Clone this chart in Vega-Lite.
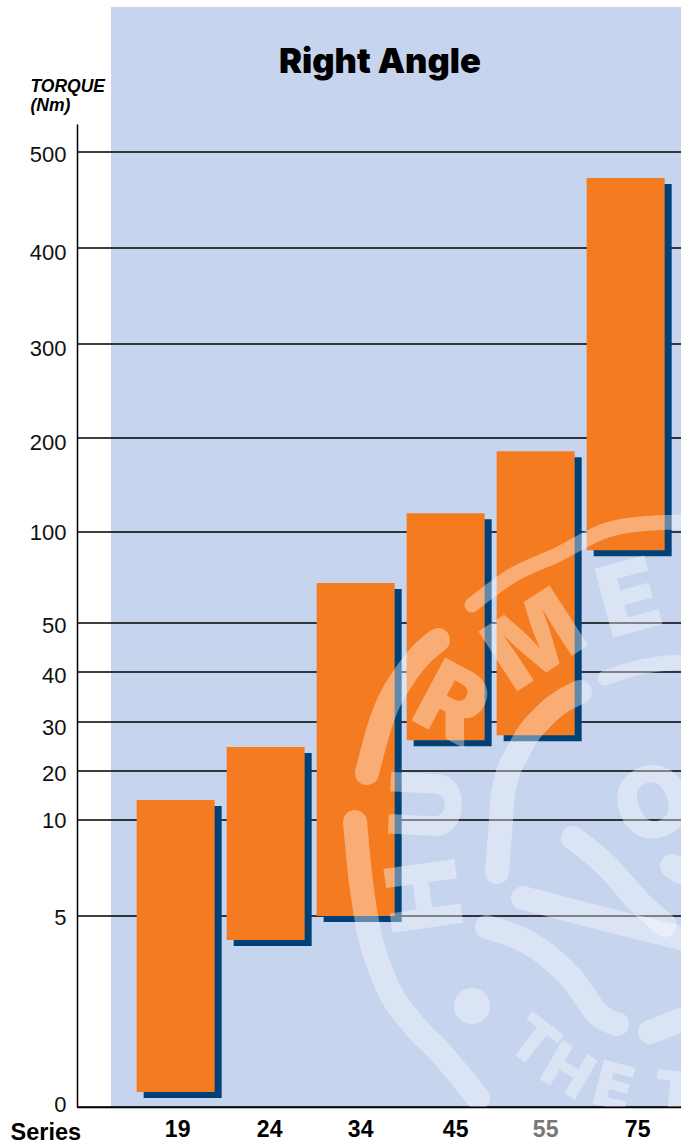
{"$schema":"https://vega.github.io/schema/vega-lite/v6.json","width":604,"height":983,"autosize":"none","padding":{"left":77,"top":124,"right":0,"bottom":37},"background":"white","config":{"view":{"stroke":null},"font":"Liberation Sans"},
"datasets":{"series":[{"series":"19","low":0.39,"high":14.1},{"series":"24","low":4.37,"high":24.9},{"series":"34","low":5,"high":72},{"series":"45","low":26.3,"high":120},{"series":"55","low":27.3,"high":186},{"series":"75","low":90,"high":473}],
"ticks":[{"t":0},{"t":5},{"t":10},{"t":20},{"t":30},{"t":40},{"t":50},{"t":100},{"t":200},{"t":300},{"t":400},{"t":500}],
"panel":[{"x":111,"x2":681,"y":7,"y2":1107}],
"heading":[{"x":380,"y":73,"label":"Right Angle"}],
"thin":[{"s":"a","x":472,"y":605},{"s":"a","x":513,"y":575},{"s":"a","x":557,"y":555},{"s":"a","x":607,"y":530},{"s":"a","x":640,"y":524},{"s":"a","x":681,"y":522},
{"s":"d","x":681,"y":662},{"s":"d","x":640,"y":667},{"s":"d","x":605,"y":678}],
"strokes":[
{"s":"b","x":438,"y":640},{"s":"b","x":407,"y":672},{"s":"b","x":380,"y":725},{"s":"b","x":367,"y":773},
{"s":"c","x":355,"y":822},{"s":"c","x":360,"y":874},{"s":"c","x":368,"y":927},{"s":"c","x":383,"y":976},{"s":"c","x":413,"y":1024},{"s":"c","x":440,"y":1052},{"s":"c","x":478,"y":1098},
{"s":"d","x":580,"y":692},{"s":"d","x":545,"y":715},{"s":"d","x":520,"y":748},{"s":"d","x":503,"y":793},{"s":"d","x":500,"y":834},{"s":"d","x":497,"y":872},
{"s":"n1","x":487,"y":927},{"s":"n1","x":540,"y":950},{"s":"n1","x":573,"y":980},{"s":"n1","x":600,"y":1016},{"s":"n1","x":617,"y":1024},
{"s":"n2","x":523,"y":898},{"s":"n2","x":600,"y":918},{"s":"n2","x":681,"y":938},
{"s":"n3","x":573,"y":838},{"s":"n3","x":607,"y":866},{"s":"n3","x":640,"y":903},{"s":"n3","x":665,"y":925},
{"s":"v","x":650,"y":1032},{"s":"v","x":681,"y":1020},
{"s":"w","x":672,"y":866},{"s":"w","x":681,"y":872}],
"dot":[{"x":472,"y":1006}],
"letters":[{"c":"R","x":450,"y":708,"a":28},{"c":"M","x":537,"y":644,"a":-33},{"c":"E","x":630,"y":603,"a":-15},{"c":"U","x":432,"y":805,"a":-87},{"c":"H","x":430,"y":895,"a":-98},{"c":"O","x":655,"y":808,"a":-20}],
"letters2":[{"c":"T","x":532,"y":1044,"a":38},{"c":"H","x":567,"y":1073,"a":30},{"c":"E","x":613,"y":1089,"a":15},{"c":"T","x":675,"y":1097,"a":5}]},
"resolve":{"scale":{"x":"independent","y":"independent"}},
"layer":[
{"data":{"name":"panel"},"mark":{"type":"rect","color":"#C6D4EE","clip":false},"encoding":{"x":{"field":"x","type":"quantitative","axis":null,"scale":{"domain":[77,681],"range":[0,604],"nice":false,"zero":false}},"x2":{"field":"x2"},"y":{"field":"y","type":"quantitative","axis":null,"scale":{"domain":[124,1107],"range":[0,983],"nice":false,"zero":false}},"y2":{"field":"y2"}}},
{"data":{"name":"heading"},"mark":{"type":"text","color":"#000","font":"Inter","fontWeight":900,"fontSize":34.5,"baseline":"alphabetic","align":"center"},"encoding":{"x":{"field":"x","type":"quantitative","axis":null,"scale":{"domain":[77,681],"range":[0,604],"nice":false,"zero":false}},"y":{"field":"y","type":"quantitative","axis":null,"scale":{"domain":[124,1107],"range":[0,983],"nice":false,"zero":false}},"text":{"field":"label"}}},
{"data":{"name":"ticks"},"mark":{"type":"rule","color":"#000","strokeWidth":1.5},"encoding":{"y":{"field":"t","type":"quantitative","axis":null,"scale":{"domain":[0,5,10,20,30,40,50,100,200,300,400,500,529],"range":[983,792,696,647,598,548,499,408,314,220,124,28,0],"zero":false,"nice":false}}}},
{"data":{"name":"series"},"mark":{"type":"bar","color":"#004178","clip":false},"encoding":{"x":{"field":"series","type":"nominal","axis":null,"scale":{"range":[7,611],"paddingInner":0.1333,"paddingOuter":0.4222,"align":0.785}},"y":{"field":"low","type":"quantitative","axis":null,"scale":{"domain":[0,5,10,20,30,40,50,100,200,300,400,500,529],"range":[989,798,702,653,604,554,505,414,320,226,130,34,6],"zero":false,"nice":false}},"y2":{"field":"high"}}},
{"data":{"name":"series"},"mark":{"type":"bar","color":"#F57B20"},"encoding":{"x":{"field":"series","type":"nominal","scale":{"range":[0,604],"paddingInner":0.1333,"paddingOuter":0.4222,"align":0.785},"axis":{"title":"Series","titleX":-67,"titleY":32,"titleAlign":"left","titleBaseline":"alphabetic","titleFontSize":23.5,"titleFontWeight":"bold","titleColor":"#000","labelAngle":0,"labelFontSize":23,"labelFontWeight":"bold","labelColor":{"expr":"datum.value=='55'?'#777':'#000'"},"labelOffset":{"expr":"datum.value=='19'?2:datum.value=='24'?4:datum.value=='34'?5:datum.value=='45'?10:datum.value=='55'?10:12"},"labelPadding":11,"ticks":false,"domainColor":"#000","domainWidth":1.5,"zindex":1}},"y":{"field":"low","type":"quantitative","scale":{"domain":[0,5,10,20,30,40,50,100,200,300,400,500,529],"range":[983,792,696,647,598,548,499,408,314,220,124,28,0],"zero":false,"nice":false},"axis":{"values":[0,5,10,20,30,40,50,100,200,300,400,500],"title":["TORQUE","(Nm)"],"titleX":-47,"titleY":-33,"titleAngle":0,"titleAlign":"left","titleBaseline":"alphabetic","titleFontSize":17.5,"titleFontStyle":"italic","titleFontWeight":"bold","titleLineHeight":19,"titleColor":"#000","labelFontSize":22,"labelColor":"#111","labelPadding":11,"labelOffset":{"expr":"datum.value==500?2:datum.value==400?4:datum.value==300?4:datum.value==200?4:datum.value==50?2:datum.value==40?3:datum.value==30?5:datum.value==20?2:datum.value==5?1:datum.value==0?-3:0"},"labelOverlap":false,"ticks":false,"grid":false,"domainColor":"#000","domainWidth":1.5,"zindex":1}},"y2":{"field":"high"}}},
{"data":{"name":"thin"},"mark":{"type":"line","color":"#fff","opacity":0.38,"strokeWidth":15,"strokeCap":"round","strokeJoin":"round","interpolate":"monotone"},"encoding":{"x":{"field":"x","type":"quantitative","axis":null,"scale":{"domain":[77,681],"range":[0,604],"nice":false,"zero":false}},"y":{"field":"y","type":"quantitative","axis":null,"scale":{"domain":[124,1107],"range":[0,983],"nice":false,"zero":false}},"detail":{"field":"s"}}},
{"data":{"name":"strokes"},"mark":{"type":"line","color":"#fff","opacity":0.38,"strokeWidth":24,"strokeCap":"round","strokeJoin":"round","interpolate":"monotone"},"encoding":{"x":{"field":"x","type":"quantitative","axis":null,"scale":{"domain":[77,681],"range":[0,604],"nice":false,"zero":false}},"y":{"field":"y","type":"quantitative","axis":null,"scale":{"domain":[124,1107],"range":[0,983],"nice":false,"zero":false}},"detail":{"field":"s"}}},
{"data":{"name":"dot"},"mark":{"type":"circle","color":"#fff","opacity":0.38,"size":1300},"encoding":{"x":{"field":"x","type":"quantitative","axis":null,"scale":{"domain":[77,681],"range":[0,604],"nice":false,"zero":false}},"y":{"field":"y","type":"quantitative","axis":null,"scale":{"domain":[124,1107],"range":[0,983],"nice":false,"zero":false}}}},
{"data":{"name":"letters"},"mark":{"type":"text","color":"#fff","opacity":0.38,"font":"Inter","fontSize":98,"fontWeight":900,"baseline":"middle","align":"center"},"encoding":{"x":{"field":"x","type":"quantitative","axis":null,"scale":{"domain":[77,681],"range":[0,604],"nice":false,"zero":false}},"y":{"field":"y","type":"quantitative","axis":null,"scale":{"domain":[124,1107],"range":[0,983],"nice":false,"zero":false}},"text":{"field":"c"},"angle":{"field":"a","type":"quantitative","scale":null}}},
{"data":{"name":"letters2"},"mark":{"type":"text","color":"#fff","opacity":0.38,"font":"Inter","fontSize":62,"fontWeight":900,"baseline":"middle","align":"center"},"encoding":{"x":{"field":"x","type":"quantitative","axis":null,"scale":{"domain":[77,681],"range":[0,604],"nice":false,"zero":false}},"y":{"field":"y","type":"quantitative","axis":null,"scale":{"domain":[124,1107],"range":[0,983],"nice":false,"zero":false}},"text":{"field":"c"},"angle":{"field":"a","type":"quantitative","scale":null}}}
]}
